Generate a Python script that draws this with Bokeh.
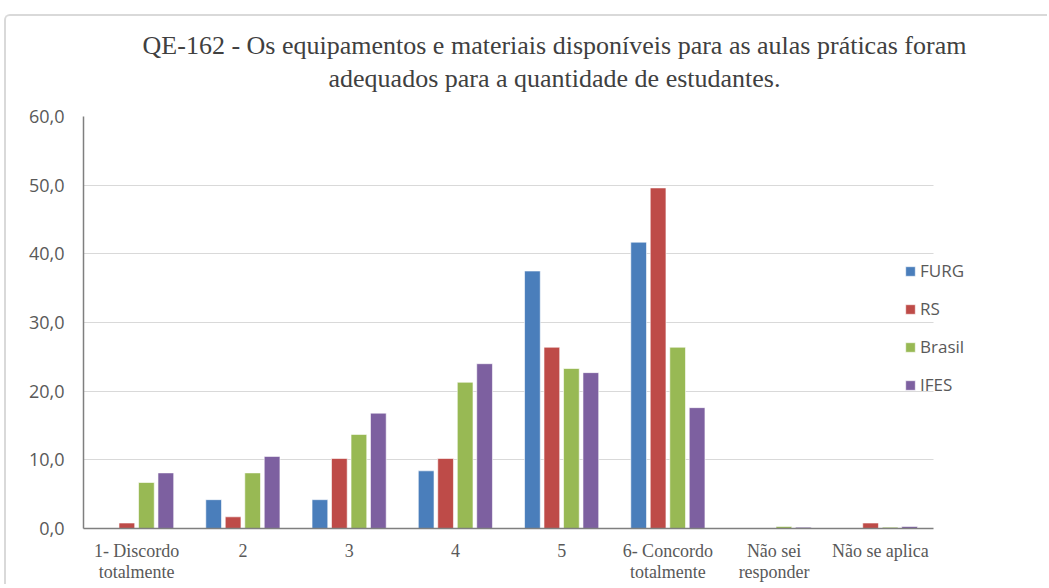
from bokeh.plotting import figure
from bokeh.models import ColumnDataSource, Range1d, FixedTicker, LinearAxis, Grid
from bokeh.embed import file_html
from bokeh.resources import INLINE

categories = ["1- Discordo\ntotalmente", "2", "3", "4", "5",
              "6- Concordo\ntotalmente", "Não sei\nresponder", "Não se aplica"]
furg = [0.0, 4.2, 4.2, 8.4, 37.5, 41.7, 0.0, 0.0]
rs = [0.8, 1.7, 10.2, 10.2, 26.4, 49.6, 0.0, 0.8]
brasil = [6.7, 8.1, 13.7, 21.3, 23.3, 26.4, 0.3, 0.2]
ifes = [8.1, 10.5, 16.8, 24.0, 22.7, 17.6, 0.2, 0.3]
series_names = ["FURG", "RS", "Brasil", "IFES"]
yticks = [0, 10, 20, 30, 40, 50, 60]
ytick_labels = ["0,0", "10,0", "20,0", "30,0", "40,0", "50,0", "60,0"]
title_text = ("QE-162 - Os equipamentos e materiais disponíveis para as aulas práticas foram\n"
              "adequados para a quantidade de estudantes.")

colors = ["#4A7EBB", "#BE4B48", "#98B954", "#7D60A0"]
offsets = [-0.275, -0.092, 0.092, 0.275]

n = len(categories)
pos = list(range(n))

# layout (pixels, canvas starts 6px right / 16px down because of the frame border)
W, H = 1043, 570
left, right, top, bottom = 77, 24, 100, 58
frame_w = W - left - right
cats_w = 850  # width used by the categories; remainder on the right holds the legend
x_end = -0.5 + n * frame_w / cats_w

data = dict(pos=pos, FURG=furg, RS=rs, Brasil=brasil, IFES=ifes)
for name, off in zip(series_names, offsets):
    data[name + "_x"] = [x + off for x in pos]
source = ColumnDataSource(data=data)

p = figure(width=W, height=H, x_range=Range1d(-0.5, x_end), y_range=Range1d(0, 60),
           output_backend="svg", toolbar_location=None,
           min_border_left=left, min_border_right=right, min_border_top=top, min_border_bottom=bottom)
p.title = None
p.styles = {"margin-left": "4px", "margin-top": "14px",
            "border-left": "2px solid #D9D9D9", "border-top": "2px solid #D9D9D9",
            "border-top-left-radius": "6px"}

for name, col in zip(series_names, colors):
    p.vbar(x=name + "_x", top=name, width=0.148, source=source,
           fill_color=col, line_color="white", line_width=0.6, legend_label=name)

p.outline_line_color = None
p.xgrid.grid_line_color = None
p.ygrid.grid_line_color = "#D9D9D9"
p.ygrid.grid_line_width = 1
if "cross_bounds" in Grid.properties():
    p.ygrid.cross_bounds = (-0.5, n - 0.5)

p.yaxis.ticker = FixedTicker(ticks=yticks)
p.yaxis.major_label_overrides = {t_: l for t_, l in zip(yticks, ytick_labels)}
p.xaxis.ticker = FixedTicker(ticks=pos)
p.xaxis.major_label_overrides = {i: c for i, c in zip(pos, categories)}
p.xaxis.bounds = (-0.5, n - 0.5)

for ax in (p.xaxis[0], p.yaxis[0]):
    ax.axis_line_color = "#7F7F7F"
    ax.axis_line_width = 1.5
    ax.major_tick_line_color = None
    ax.minor_tick_line_color = None
    ax.major_tick_out = 0
    ax.major_tick_in = 0
    ax.minor_tick_out = 0
    ax.minor_tick_in = 0
    ax.major_label_text_color = "#595959"

p.yaxis.major_label_text_font = "Open Sans"
p.yaxis.major_label_text_font_size = "18px"
p.yaxis.major_label_standoff = 19
p.xaxis.major_label_text_font = "Liberation Serif"
p.xaxis.major_label_text_font_size = "18px"
p.xaxis.major_label_standoff = 12
p.xaxis.major_label_text_line_height = 1.05

# title as a centered, two-line axis label above the plot
tax = LinearAxis(ticker=FixedTicker(ticks=[]), axis_line_color=None,
                 major_tick_out=0, major_tick_in=0, minor_tick_out=0, minor_tick_in=0,
                 major_label_text_font_size="0px",
                 axis_label=title_text, axis_label_text_font="Liberation Serif",
                 axis_label_text_font_size="26px", axis_label_text_font_style="normal",
                 axis_label_text_color="#404040", axis_label_text_line_height=1.12,
                 axis_label_standoff=24)
p.add_layout(tax, "above")

lg = p.legend[0]
lg.location = (821, 132)
lg.padding = 0
lg.margin = 0
lg.spacing = 15
lg.glyph_width = 12
lg.glyph_height = 12
lg.label_standoff = 4
lg.label_text_font = "Open Sans"
lg.label_text_font_size = "17px"
lg.label_text_color = "#595959"
lg.border_line_color = None
lg.background_fill_alpha = 0

open("out.html", "w").write(file_html(p, INLINE))
